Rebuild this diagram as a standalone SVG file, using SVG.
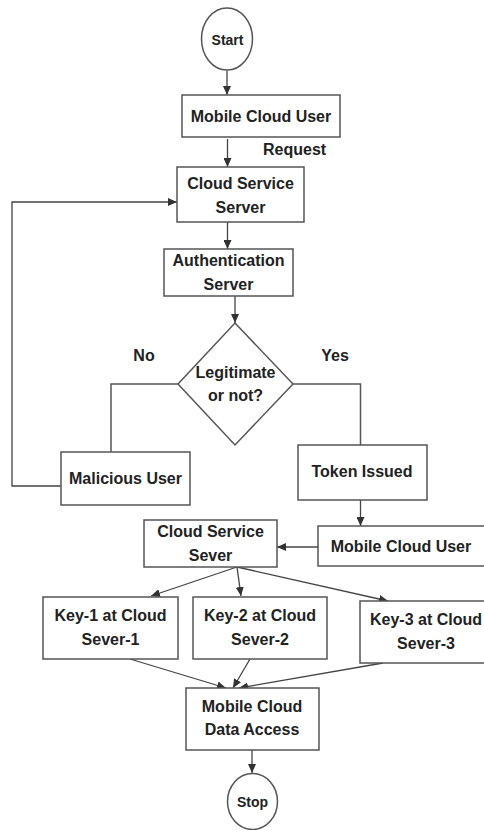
<svg xmlns="http://www.w3.org/2000/svg" width="484" height="830" viewBox="0 0 484 830">
  <defs>
    <marker id="arrow" markerUnits="userSpaceOnUse" markerWidth="10" markerHeight="8" refX="9" refY="4" orient="auto">
      <path d="M0,0 L9,4 L0,8 Z" fill="#333"/>
    </marker>
  </defs>
  <style>
    .box { fill: #fff; stroke: #555; stroke-width: 1.5; }
    .line { fill: none; stroke: #555; stroke-width: 1.5; }
    .arr { fill: none; stroke: #444; stroke-width: 1.3; marker-end: url(#arrow); }
    text { font-family: "Liberation Sans", Arial, sans-serif; font-weight: bold; font-size: 16px; fill: #222; text-anchor: middle; }
    .small { font-size: 14px; }
    .lbl { text-anchor: start; }
  </style>
  <rect width="484" height="830" fill="#fff"/>

  <g id="connectors">
    <line class="arr" x1="227" y1="71" x2="227" y2="95"/>
    <line class="arr" x1="227.5" y1="139" x2="227.5" y2="167"/>
    <line class="arr" x1="227.5" y1="222" x2="227.5" y2="249"/>
    <line class="arr" x1="235" y1="296" x2="235" y2="323"/>
    <polyline class="line" points="178,384 111,384 111,452"/>
    <polyline class="line" points="293,384 360.5,384 360.5,445"/>
    <polyline class="arr" points="61,486 12,486 12,202 177,202"/>
    <line class="arr" x1="360.5" y1="500" x2="360.5" y2="526"/>
    <line class="arr" x1="318" y1="547" x2="277" y2="547"/>
    <line class="arr" x1="237" y1="567" x2="151" y2="596"/>
    <line class="arr" x1="237" y1="567" x2="241" y2="596"/>
    <line class="arr" x1="237" y1="567" x2="388" y2="601"/>
    <line class="arr" x1="130" y1="659" x2="226" y2="688"/>
    <line class="arr" x1="250" y1="659" x2="233" y2="688"/>
    <line class="arr" x1="383" y1="663" x2="239" y2="688"/>
    <line class="arr" x1="252" y1="750" x2="252" y2="773"/>
    <text class="lbl" x="263" y="155">Request</text>
    <text x="144" y="361">No</text>
    <text x="335" y="361">Yes</text>
  </g>

  <g id="start">
    <ellipse class="box" cx="227" cy="39" rx="25.5" ry="31"/>
    <text class="small" x="227.5" y="45">Start</text>
  </g>

  <g id="mobile-cloud-user">
    <rect class="box" x="182" y="95" width="158" height="42"/>
    <text x="261" y="122">Mobile Cloud User</text>
  </g>

  <g id="cloud-service-server">
    <rect class="box" x="177" y="167" width="127" height="55"/>
    <text x="240.5" y="189">Cloud Service</text>
    <text x="240.5" y="213">Server</text>
  </g>

  <g id="authentication-server">
    <rect class="box" x="164" y="249" width="129" height="47"/>
    <text x="228.5" y="266">Authentication</text>
    <text x="228.5" y="290">Server</text>
  </g>

  <g id="legitimate">
    <polygon class="box" points="235,323 293,384 235,445 178,384"/>
    <text x="235.5" y="378">Legitimate</text>
    <text x="235.5" y="401">or not?</text>
  </g>

  <g id="malicious-user">
    <rect class="box" x="61" y="452" width="129" height="53"/>
    <text x="125.5" y="484">Malicious User</text>
  </g>

  <g id="token-issued">
    <rect class="box" x="298" y="445" width="129" height="55"/>
    <text x="362" y="477">Token Issued</text>
  </g>

  <g id="mobile-cloud-user-2">
    <rect class="box" x="318" y="526" width="172" height="40"/>
    <text x="401" y="552">Mobile Cloud User</text>
  </g>

  <g id="cloud-service-sever">
    <rect class="box" x="144" y="520" width="133" height="47"/>
    <text x="210.5" y="537">Cloud Service</text>
    <text x="210.5" y="561">Sever</text>
  </g>

  <g id="key-1">
    <rect class="box" x="43" y="597" width="135" height="62"/>
    <text x="110.5" y="621">Key-1 at Cloud</text>
    <text x="110.5" y="645">Sever-1</text>
  </g>

  <g id="key-2">
    <rect class="box" x="193" y="597" width="134" height="62"/>
    <text x="260" y="621">Key-2 at Cloud</text>
    <text x="260" y="645">Sever-2</text>
  </g>

  <g id="key-3">
    <rect class="box" x="360" y="601" width="130" height="62"/>
    <text x="426" y="625">Key-3 at Cloud</text>
    <text x="426" y="649">Sever-3</text>
  </g>

  <g id="data-access">
    <rect class="box" x="186" y="688" width="133" height="62"/>
    <text x="252" y="712">Mobile Cloud</text>
    <text x="252" y="735">Data Access</text>
  </g>

  <g id="stop">
    <ellipse class="box" cx="252.5" cy="801.5" rx="25" ry="28"/>
    <text class="small" x="252.5" y="807">Stop</text>
  </g>
</svg>
